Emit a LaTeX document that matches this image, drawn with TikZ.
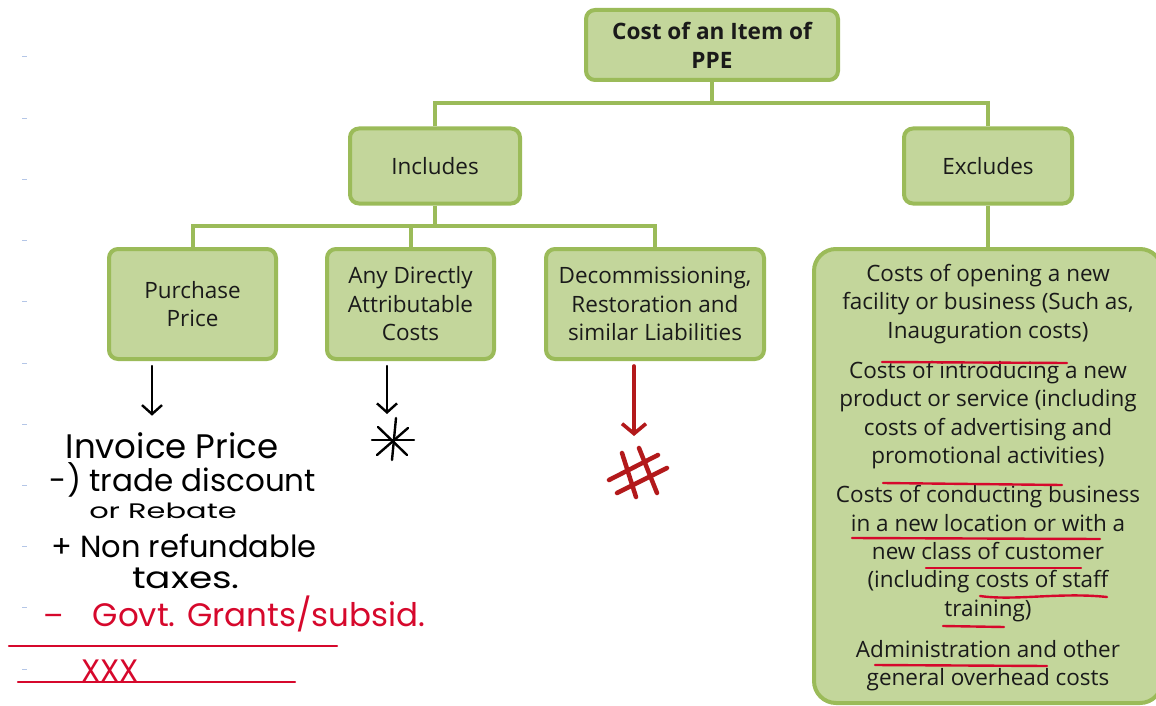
\documentclass[tikz,border=0pt]{standalone}
\usepackage{fontspec}
\setmainfont{Open Sans}
\newfontfamily\handfont{Poppins}
\usetikzlibrary{arrows.meta}
\definecolor{boxfill}{HTML}{C3D69B}
\definecolor{boxline}{HTML}{9BBB59}
\definecolor{inkred}{HTML}{D6082C}
\definecolor{markred}{HTML}{B3191B}
\definecolor{tickblue}{HTML}{B4C6E7}
\definecolor{textdark}{HTML}{1A1A1A}

\begin{document}
\begin{tikzpicture}[x=1pt,y=-1pt,
  gbox/.style={draw=boxline, line width=4pt, fill=boxfill, rounded corners=9pt,
    align=center, inner sep=0pt, text=textdark,
    font=\fontsize{22.5}{28.5}\selectfont},
  conn/.style={draw=boxline, line width=4pt},
  hand/.style={inner sep=0pt, text=black, font=\handfont\fontsize{31}{32}\selectfont},
  handred/.style={hand, text=inkred},
  handarrow/.style={line width=2.4pt, line cap=round, -{Straight Barb[length=9pt,width=20pt]}},
  redarrow/.style={draw=markred, line width=3.6pt, line cap=round, -{Straight Barb[length=10pt,width=24pt]}},
  inkstroke/.style={line width=2.4pt, line cap=round},
  hashstroke/.style={draw=markred, line width=4.5pt, line cap=round},
  underline/.style={draw=inkred, line width=2.4pt, line cap=round},
  extext/.style={align=center, inner sep=0pt, text=textdark, font=\fontsize{22.5}{28.3}\selectfont}]

\useasboundingbox (0,0) rectangle (1156,706);

% margin ticks of the note page
\foreach \k in {0,...,10}
  \draw[tickblue, line width=1pt] (22,57+61.2*\k) -- (27,57+61.2*\k);

% tree boxes
\node[gbox, minimum width=252pt, minimum height=70pt,
      font=\bfseries\fontsize{22.6}{29}\selectfont] (top) at (712,45) {Cost of an Item of\\PPE};
\node[gbox, minimum width=170pt, minimum height=75pt] (inc) at (435,166) {Includes};
\node[gbox, minimum width=168pt, minimum height=75pt] (exc) at (988,166) {Excludes};
\node[gbox, minimum width=167pt, minimum height=110pt] (pp)  at (192.5,304) {Purchase\\Price};
\node[gbox, minimum width=167pt, minimum height=110pt] (adc) at (410.5,304) {Any Directly\\Attributable\\Costs};
\node[gbox, minimum width=218pt, minimum height=110pt] (dec) at (655,304) {Decommissioning,\\Restoration and\\similar Liabilities};
\node[gbox, minimum width=348pt, minimum height=454pt, rounded corners=22pt] (exbox) at (988,476) {};

% connectors
\coordinate (j1) at (712,103);
\coordinate (j2) at (435,226);
\draw[conn] (top.south) -- (j1);
\draw[conn] (inc.north) |- (j1) -| (exc.north);
\draw[conn] (inc.south) -- (j2);
\draw[conn] (pp.north) |- (j2) -| (dec.north);
\draw[conn] (adc.north) -- (adc.north |- j2);
\draw[conn] (exc.south) -- (exbox.north);

% excluded costs
\node[extext] (ex1) at (988,304) {Costs of opening a new\\facility or business (Such as,\\Inauguration costs)};
\node[extext] (ex2) at (988,415) {Costs of introducing a new\\product or service (including\\costs of advertising and\\promotional activities)};
\node[extext] (ex3) at (988,553.5) {Costs of conducting business\\in a new location or with a\\new class of customer\\(including costs of staff\\training)};
\node[extext] (ex4) at (988,665.5) {Administration and other\\general overhead costs};

% underlines
\draw[underline] (882,362) -- (1067,363);
\draw[underline] (883,483) -- (1062,485);
\draw[underline] (852,538) -- (1100,539);
\draw[underline] (926,568) -- (1081,568);
\draw[underline] (980,596) .. controls (1015,601) and (1060,592) .. (1107,597);
\draw[underline] (943,626) -- (1004,627);
\draw[underline] (875,665) -- (1047,666);

% notes under Purchase Price
\node[hand, font=\handfont\fontsize{34}{36}\selectfont] (inv) at (172,446) {Invoice Price};
\node[hand] (trd) at (183,480) {-) trade discount};
\node[hand, font=\handfont\fontsize{21}{22}\selectfont] (reb) at (163,511) {\scalebox{1.45}[1]{or Rebate}};
\node[hand, font=\handfont\fontsize{30.5}{32}\selectfont] (nrt) at (184,546) {+ Non refundable};
\node[hand, font=\handfont\fontsize{30}{32}\selectfont] (tax) at (186,578) {\scalebox{1.25}[1]{taxes.}};
\node[handred, font=\handfont\fontsize{30}{32}\selectfont] (gmin) at (54,620) {–};
\node[handred, font=\handfont\fontsize{32.5}{34}\selectfont] (grt) at (259,614) {Govt. Grants/subsid.};
\node[handred, font=\handfont\fontsize{31}{32}\selectfont] (xxx) at (110,671) {XXX};
\draw[underline] (9,646) -- (337,646);
\draw[underline] (18,682) -- (295,682);

\coordinate (pa) at (152,0);
\draw[handarrow, shorten <=5pt, shorten >=17pt] (pa |- pp.south) -- (pa |- inv.north);

% asterisk under the attributable costs
\coordinate (aa) at (387,0);
\coordinate (ast) at (393,440);
\draw[handarrow, shorten <=5pt, shorten >=26pt] (aa |- adc.south) -- (aa |- ast);
\draw[inkstroke] ([shift={(-21,0)}]ast) -- ([shift={(21,0)}]ast);
\draw[inkstroke] ([shift={(3,-22)}]ast) -- ([shift={(-1,20)}]ast);
\draw[inkstroke] ([shift={(-15,-13)}]ast) -- ([shift={(14,15)}]ast);
\draw[inkstroke] ([shift={(15,-12)}]ast) -- ([shift={(-16,15)}]ast);

% hash under the liabilities
\coordinate (ra) at (634,0);
\coordinate (hash) at (638,472);
\draw[redarrow, shorten <=5pt, shorten >=36pt] (ra |- dec.south) -- (ra |- hash);
\draw[hashstroke] ([shift={(-16,-19)}]hash) -- ([shift={(-2,25)}]hash);
\draw[hashstroke] ([shift={(1,-24)}]hash) -- ([shift={(19,21)}]hash);
\draw[hashstroke] ([shift={(-29,8)}]hash) -- ([shift={(20,-17)}]hash);
\draw[hashstroke] ([shift={(-21,21)}]hash) -- ([shift={(29,-4)}]hash);

\end{tikzpicture}
\end{document}
